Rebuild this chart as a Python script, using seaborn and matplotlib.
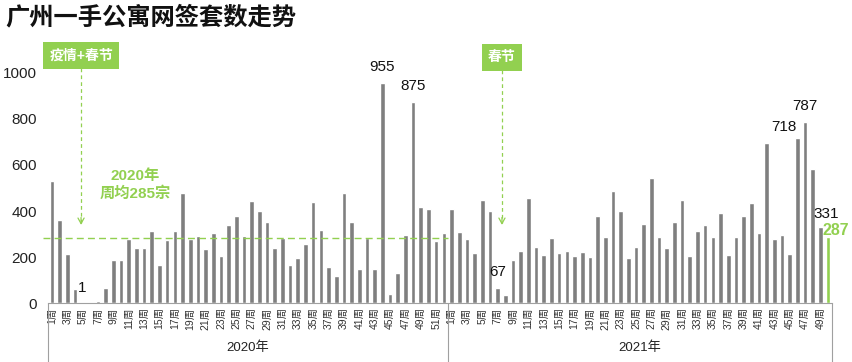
import numpy as np
import pandas as pd
import matplotlib
matplotlib.use('Agg')
import matplotlib.pyplot as plt
import seaborn as sns
from matplotlib import transforms

# 广州一手公寓网签套数（按周）
vals_2020 = [530, 361, 214, 62, 1, 0, 11, 65, 188, 188,
             279, 240, 240, 314, 168, 275, 314, 478, 279, 292,
             235, 305, 205, 340, 379, 292, 444, 400, 353, 240,
             283, 166, 196, 257, 439, 318, 157, 118, 478, 353,
             149, 283, 149, 955, 40, 131, 296, 875, 418, 409,
             270, 305]
vals_2021 = [409, 309, 279, 218, 448, 400, 67, 36, 188, 227,
             457, 244, 209, 283, 218, 227, 205, 222, 201, 379,
             288, 487, 400, 196, 244, 344, 543, 288, 240, 353,
             448, 205, 314, 340, 288, 392, 209, 288, 379, 435,
             305, 695, 279, 296, 214, 718, 787, 582, 331, 287]
years = ['2020年', '2021年']
avg_2020 = 285
avg_text = '2020年\n周均285宗'
title = '广州一手公寓网签套数走势'

# 标注的数据标签: (年份, 周, 文字偏移x, 偏移y)
value_labels = [(2020, 5, 0, 10.5), (2020, 44, 0, 11.8), (2020, 48, 0, 11.4),
                (2021, 7, 0, 11.4), (2021, 46, -9.4, 8), (2021, 47, 0, 11.5),
                (2021, 49, 4.3, 9.4), (2021, 50, 5.8, 4.7)]
events = [('疫情+春节', 2020, 4.8, 1075), ('春节', 2021, 7.56, 1066)]

gray = '#7F7F7F'
green = '#92D050'

n20, n21 = len(vals_2020), len(vals_2021)
df = pd.DataFrame({
    'pos': np.arange(n20 + n21),
    'value': vals_2020 + vals_2021,
    'year': [2020] * n20 + [2021] * n21,
    'week': list(range(1, n20 + 1)) + list(range(1, n21 + 1)),
})
df['hl'] = '常规'
df.loc[df.index[-1], 'hl'] = '最新'

def pos_of(year, week):
    return (week - 1) + (0 if year == 2020 else n20)

sns.set_style('white')
plt.rcParams['font.family'] = ['Liberation Sans', 'Noto Sans CJK SC']

fig = plt.figure(figsize=(8.52, 3.62), dpi=100)
ax = fig.add_axes([48 / 852, 58.7 / 362, 784 / 852, 230.6 / 362])

sns.barplot(data=df, x='pos', y='value', hue='hl', palette={'常规': gray, '最新': green},
            dodge=False, width=0.6, saturation=1, legend=False, ax=ax)

ax.set_xlim(-0.5, n20 + n21 - 0.5)
ax.set_ylim(0, 1000)
ax.set_xlabel('')
ax.set_ylabel('')
ax.set_yticks(range(0, 1001, 200))
ax.tick_params(axis='y', length=0, pad=8, labelsize=11, labelcolor='#222222')

odd = df[df['week'] % 2 == 1]
ax.set_xticks(odd['pos'].values)
ax.set_xticklabels([f'{w}周' for w in odd['week']], rotation=90)
ax.tick_params(axis='x', which='major', length=0, pad=3, labelsize=7.5, labelcolor='#333333')
ax.set_xticks(np.arange(-0.5, n20 + n21, 1), minor=True)
ax.tick_params(axis='x', which='minor', length=3, color='#A0A0A0', width=0.8)

for s in ['top', 'right', 'left']:
    ax.spines[s].set_visible(False)
ax.spines['bottom'].set_color('#A0A0A0')

# 年份分组
tr = transforms.blended_transform_factory(ax.transData, ax.transAxes)
for xb in [-0.5, n20 - 0.5, n20 + n21 - 0.5]:
    ax.plot([xb, xb], [0, -0.26], transform=tr, color='#A0A0A0', lw=0.8, clip_on=False)
ax.text((n20 - 1) / 2, -0.194, years[0], transform=tr, ha='center', va='center',
        fontsize=9.5, color='#222222')
ax.text(n20 + (n21 - 1) / 2, -0.194, years[1], transform=tr, ha='center', va='center',
        fontsize=9.5, color='#222222')

# 2020年均值
ax.plot([-1.2, n20 - 0.5], [avg_2020, avg_2020], color=green, lw=1,
        dashes=(5, 3), clip_on=False)
ax.text(10.8, 513, avg_text, ha='center', va='center', fontsize=11,
        fontweight='bold', color=green, linespacing=1.3)

# 数据标签
for yr, wk, dx, dy in value_labels:
    p = pos_of(yr, wk)
    v = df.loc[p, 'value']
    last = p == len(df) - 1
    ax.annotate(str(v), xy=(p, v), xytext=(dx, dy), textcoords='offset points',
                ha='center', va='center', fontsize=11.5 if last else 11,
                color=green if last else '#111111',
                fontweight='bold' if last else 'normal')

# 事件标注
for txt, yr, wk, ybox in events:
    p = pos_of(yr, 1) + wk - 1
    ax.text(p, ybox, txt, ha='center', va='center', fontsize=10, fontweight='bold',
            color='white', bbox=dict(boxstyle='square,pad=0.45', fc=green, ec='none'))
    ax.plot([p, p], [ybox - 55, 350], color=green, lw=0.9, dashes=(3, 2.5), clip_on=False)
    ax.annotate('', xy=(p, 340), xytext=(p, 372),
                arrowprops=dict(arrowstyle='->,head_width=0.22,head_length=0.4',
                                color=green, lw=0.9, shrinkA=0, shrinkB=0))

fig.text(5 / 852, 1 - 18 / 362, title, fontsize=17.5, fontweight='bold',
         ha='left', va='center', color='#111111')

fig.savefig('out.png', dpi=100)
